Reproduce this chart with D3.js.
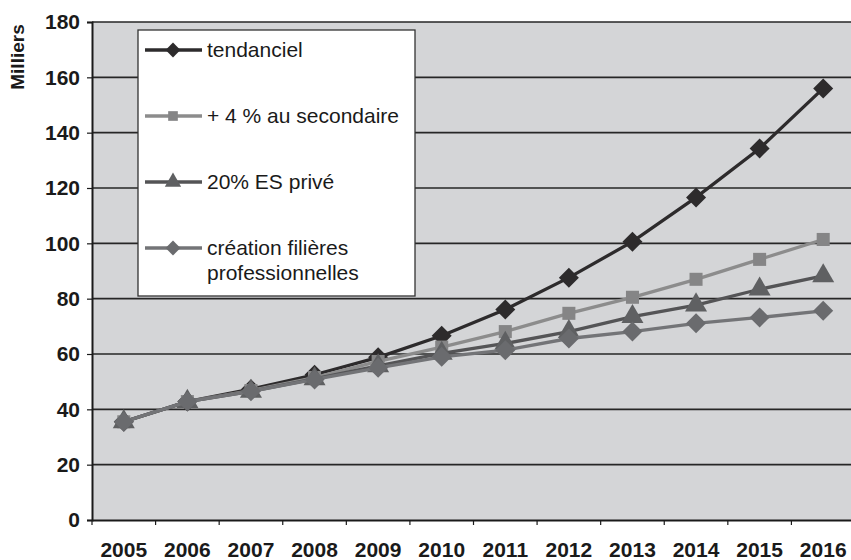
<!DOCTYPE html>
<html>
<head>
<meta charset="utf-8">
<script src="https://cdn.jsdelivr.net/npm/d3@7"></script>
<style>
  body { margin: 0; background: #fff; }
  svg { display: block; font-family: "Liberation Sans", Arial, sans-serif; }
</style>
</head>
<body>
<div id="chart"></div>
<script>
// années
const years = ['2005', '2006', '2007', '2008', '2009', '2010', '2011', '2012', '2013', '2014', '2015', '2016']
// séries (milliers)
const tendanciel = [35.5, 42.8, 47.3, 52.5, 58.8, 66.6, 76.1, 87.6, 100.6, 116.6, 134.3, 156.0]
const secondaire = [35.5, 42.8, 46.8, 51.5, 57.3, 62.5, 68.1, 74.7, 80.5, 87.0, 94.2, 101.4]
const esPrive = [35.5, 42.8, 46.5, 51.0, 55.7, 60.2, 63.8, 68.1, 73.5, 77.7, 83.4, 88.2]
const filieres = [35.5, 42.8, 46.5, 50.8, 55.0, 59.0, 61.4, 65.6, 68.1, 71.1, 73.2, 75.6]
const seriesNames = ['tendanciel', '+ 4 % au secondaire', '20% ES privé', 'création filières|professionnelles']
const yTicks = [0, 20, 40, 60, 80, 100, 120, 140, 160, 180]

const width = 851
const height = 560
const margin = { left: 92, top: 22, right: -4, bottom: 40 }

const series = [
  { name: seriesNames[0], values: tendanciel, line: '#2d2b2c', fill: '#2d2b2c', shape: 'diamond', size: 200 },
  { name: seriesNames[1], values: secondaire, line: '#8c8c8c', fill: '#858586', shape: 'square', size: 170 },
  { name: seriesNames[2], values: esPrive, line: '#545456', fill: '#5f6062', shape: 'triangle', size: 210 },
  { name: seriesNames[3], values: filieres, line: '#737477', fill: '#6a6b6e', shape: 'diamond', size: 200 }
]

const svg = d3.select('#chart').append('svg')
  .attr('width', width)
  .attr('height', height)

const x = d3.scaleBand()
  .domain(years)
  .range([margin.left, width - margin.right])

const y = d3.scaleLinear()
  .domain([0, 180])
  .range([height - margin.bottom, margin.top])

// fond de la zone de tracé
svg.append('rect')
  .attr('x', x.range()[0])
  .attr('y', y(180))
  .attr('width', x.range()[1] - x.range()[0])
  .attr('height', y(0) - y(180))
  .attr('fill', '#d4d5d7')

// quadrillage
svg.append('g')
  .selectAll('line')
  .data(yTicks.filter(d => d > 0))
  .join('line')
  .attr('x1', x.range()[0])
  .attr('x2', x.range()[1])
  .attr('y1', d => y(d))
  .attr('y2', d => y(d))
  .attr('stroke', '#262626')
  .attr('stroke-width', 1.6)

// axe Y
const yAxis = svg.append('g')
  .attr('transform', `translate(${x.range()[0]},0)`)
  .call(d3.axisLeft(y).tickValues(yTicks).tickSize(5).tickPadding(7))
yAxis.select('.domain').attr('stroke', '#1a1a1a').attr('stroke-width', 2)
yAxis.selectAll('.tick line').attr('stroke', '#1a1a1a').attr('stroke-width', 1.2)
yAxis.selectAll('.tick text')
  .attr('fill', '#1a1a1a')
  .style('font-size', '21px')
  .style('font-weight', 'bold')

// axe X
const xAxis = svg.append('g')
  .attr('transform', `translate(0,${y(0)})`)
  .call(d3.axisBottom(x).tickSize(0).tickPadding(22))
xAxis.select('.domain').attr('stroke', '#1a1a1a').attr('stroke-width', 2)
xAxis.selectAll('.tick text')
  .attr('fill', '#1a1a1a')
  .style('font-size', '21px')
  .style('font-weight', 'bold')
// graduations entre les catégories
xAxis.selectAll('line.sep')
  .data(years)
  .join('line')
  .classed('sep', true)
  .attr('x1', d => x(d))
  .attr('x2', d => x(d))
  .attr('y1', 0)
  .attr('y2', 5)
  .attr('stroke', '#1a1a1a')
  .attr('stroke-width', 1.2)

// titre de l'axe Y
svg.append('text')
  .attr('transform', 'translate(24,57) rotate(-90)')
  .attr('text-anchor', 'middle')
  .style('font-size', '19px')
  .style('font-weight', 'bold')
  .attr('fill', '#1a1a1a')
  .text('Milliers')

function symbolPath(shape, size) {
  if (shape === 'triangle') return d3.symbol(d3.symbolTriangle, size)()
  return d3.symbol(d3.symbolSquare, size)()
}
function symbolRotate(shape) {
  return shape === 'diamond' ? ' rotate(45)' : ''
}

const line = d3.line()
  .x((d, i) => x(years[i]) + x.bandwidth() / 2)
  .y(d => y(d))

// séries
series.forEach(s => {
  const g = svg.append('g')
  g.append('path')
    .datum(s.values)
    .attr('d', line)
    .attr('fill', 'none')
    .attr('stroke', s.line)
    .attr('stroke-width', 3.3)
  g.selectAll('path.pt')
    .data(s.values)
    .join('path')
    .classed('pt', true)
    .attr('d', symbolPath(s.shape, s.size))
    .attr('transform', (d, i) => `translate(${x(years[i]) + x.bandwidth() / 2},${y(d)})${symbolRotate(s.shape)}`)
    .attr('fill', s.fill)
})

// légende
const legend = svg.append('g').attr('transform', 'translate(138,30)')
legend.append('rect')
  .attr('width', 277)
  .attr('height', 266)
  .attr('fill', '#fff')
  .attr('stroke', '#333')
  .attr('stroke-width', 1.3)

const rowY = [20, 86, 152, 218]
const item = legend.selectAll('g.item')
  .data(series)
  .join('g')
  .classed('item', true)
  .attr('transform', (d, i) => `translate(0,${rowY[i]})`)

item.append('line')
  .attr('x1', 7)
  .attr('x2', 64)
  .attr('stroke', d => d.line)
  .attr('stroke-width', 3.3)
item.append('path')
  .attr('d', d => symbolPath(d.shape, d.size * 0.55))
  .attr('transform', d => `translate(35,0)${symbolRotate(d.shape)}`)
  .attr('fill', d => d.fill)
item.append('text')
  .attr('x', 69)
  .style('font-size', '21px')
  .attr('fill', '#1a1a1a')
  .each(function(d) {
    const parts = d.name.split('|')
    d3.select(this).selectAll('tspan')
      .data(parts)
      .join('tspan')
      .attr('x', 69)
      .attr('dy', (p, j) => j === 0 ? '0.35em' : '1.15em')
      .text(p => p)
  })
</script>
</body>
</html>
